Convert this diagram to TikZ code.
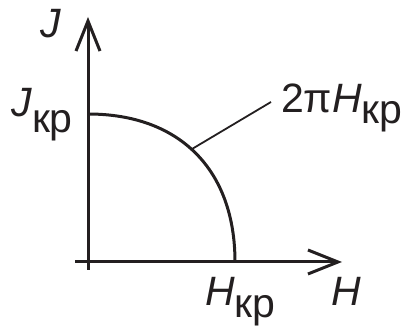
\documentclass[tikz,border=0pt]{standalone}
\usepackage{fontspec}
\setmainfont{Liberation Sans}
\usetikzlibrary{arrows.meta}
\definecolor{ink}{HTML}{231F20}
\newcommand{\lowsub}[2][14pt]{\raisebox{-#1}{#2}}
\begin{document}
\begin{tikzpicture}[x=1pt,y=1pt,
  axis/.style={draw=ink, line width=3pt, -{Straight Barb[length=30pt,width=24pt,line width=3pt]}},
  curve/.style={draw=ink, line width=3pt},
  leader/.style={draw=ink, line width=1.8pt},
  lbl/.style={inner sep=0pt, anchor=base west, text=ink, font=\fontsize{41}{41}\selectfont}]
\useasboundingbox (0,0) rectangle (402,329);
% axes
\coordinate (vbot) at (88,59);
\coordinate (vtop) at (88,312);
\coordinate (hleft) at (75,67);
\coordinate (hright) at (342,67);
\draw[axis] (vbot) -- (vtop);
\draw[axis] (hleft) -- (hright);
% critical curve
\coordinate (jk) at (88,215);
\coordinate (hk) at (235,67);
\draw[curve] (jk) .. controls (180,215) and (235,159) .. (hk);
% labels
\node[lbl] (Jax) at (40,291) {\textit{J}};
\node[lbl] (Jkr) at (11,212) {\textit{J}\lowsub[16pt]{кр}};
\node[lbl] (twopi) at (281,216) {2π\textit{H}\lowsub[11pt]{кр}};
\node[lbl] (Hkr) at (205,23) {\textit{H}\lowsub[12pt]{кр}};
\node[lbl] (Hax) at (331,23) {\textit{H}};
% leader
\coordinate (lc) at (192,180);
\coordinate (le) at (271,227);
\draw[leader] (lc) -- (le);
\end{tikzpicture}
\end{document}
